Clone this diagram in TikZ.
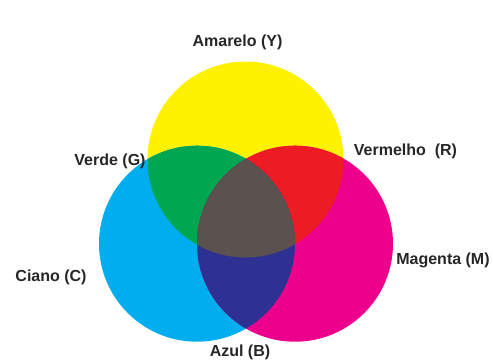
\documentclass[tikz,border=0pt]{standalone}
\usepackage{fontspec}
\setmainfont{Liberation Sans}
\usepackage{tikz}
\usetikzlibrary{positioning}
\usepackage{xcolor}
\definecolor{amarelo}{HTML}{FFF200}
\definecolor{ciano}{HTML}{00AEEF}
\definecolor{magenta}{HTML}{EC008C}
\definecolor{verde}{HTML}{00A650}
\definecolor{vermelho}{HTML}{ED1C24}
\definecolor{azul}{HTML}{2E3192}
\definecolor{centro}{HTML}{5B514E}
\newcommand{\rad}{98}

\begin{document}
\begin{tikzpicture}[
    x=1pt, y=-1pt,
    lbl/.style={font=\bfseries\fontsize{16}{18}\selectfont, inner sep=0pt, text=black!85}
  ]
  \useasboundingbox (0,0) rectangle (493,364);
  % circle centres
  \coordinate (Y) at (245.5,159.5);
  \coordinate (C) at (197,243.7);
  \coordinate (M) at (295,243.7);

  \fill[amarelo] (Y) circle (\rad);
  \fill[ciano] (C) circle (\rad);
  \fill[magenta] (M) circle (\rad);

  % overlaps
  \begin{scope}
    \clip (Y) circle (\rad);
    \fill[verde] (C) circle (\rad);
    \fill[vermelho] (M) circle (\rad);
  \end{scope}
  \begin{scope}
    \clip (C) circle (\rad);
    \fill[azul] (M) circle (\rad);
  \end{scope}
  \begin{scope}
    \clip (Y) circle (\rad);
    \clip (C) circle (\rad);
    \fill[centro] (M) circle (\rad);
  \end{scope}

  \node[lbl] (amarelo) at (237.5,42.5) {Amarelo (Y)};
  \node[lbl] (verde) at (110,161) {Verde (G)};
  \node[lbl] (vermelho) at (405.5,151) {Vermelho\ \ (R)};
  \node[lbl] (ciano) at (51,277) {Ciano (C)};
  \node[lbl] (magenta) at (443,260.5) {Magenta (M)};
  \node[lbl] (azul) at (240,352) {Azul (B)};
\end{tikzpicture}
\end{document}
